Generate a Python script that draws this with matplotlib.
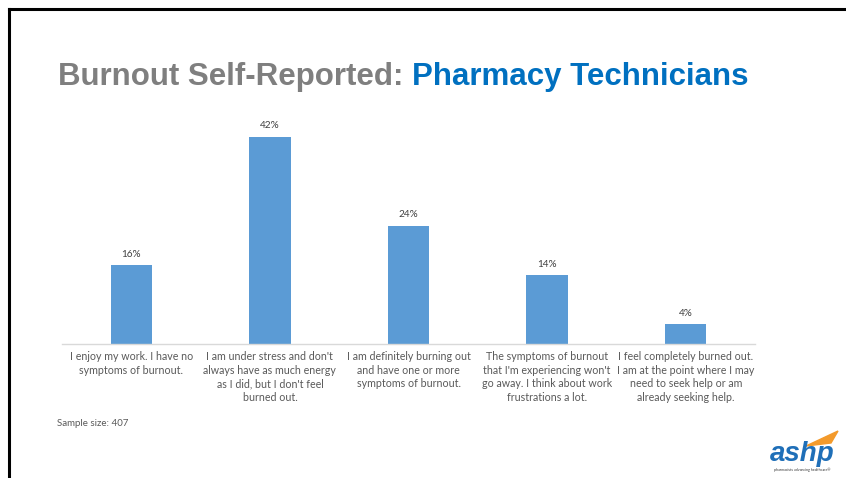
import matplotlib
matplotlib.use('Agg')
import matplotlib.pyplot as plt
from matplotlib.lines import Line2D
from matplotlib.patches import Polygon

# 資料
categories = [
    "I enjoy my work. I have no\nsymptoms of burnout.",
    "I am under stress and don't\nalways have as much energy\nas I did, but I don't feel\nburned out.",
    "I am definitely burning out\nand have one or more\nsymptoms of burnout.",
    "The symptoms of burnout\nthat I'm experiencing won't\ngo away. I think about work\nfrustrations a lot.",
    "I feel completely burned out.\nI am at the point where I may\nneed to seek help or am\nalready seeking help.",
]
percents = [16, 42, 24, 14, 4]
sample_size = 407

bar_color = '#5B9BD5'
text_gray = '#595959'

fig = plt.figure(figsize=(8.46, 4.78), dpi=100)
fig.patch.set_facecolor('white')

# 外框(上、左)
fig.add_artist(Line2D([9/846, 1], [1 - 9/478, 1 - 9/478], color='black', lw=2.2, transform=fig.transFigure))
fig.add_artist(Line2D([9/846, 9/846], [0, 1 - 9/478], color='black', lw=2.2, transform=fig.transFigure))

# 標題
title_font = dict(fontsize=22.5, fontweight='bold', family=['Liberation Sans Narrow', 'Liberation Sans'])
t1 = fig.text(58/846, 1 - 85/478, 'Burnout Self-Reported: ', color='#7F7F7F', va='baseline', **title_font)
fig.canvas.draw()
bb = t1.get_window_extent()
fig.text(bb.x1 / fig.bbox.width, 1 - 85/478, 'Pharmacy Technicians', color='#0070C0', va='baseline', **title_font)

# 長條圖
ax = fig.add_axes([62/846, (478-344)/478, (755-62)/846, (344-122)/478])
x = list(range(len(percents)))
bars = ax.bar(x, percents, width=0.3, color=bar_color)
for xi, p in zip(x, percents):
    ax.text(xi, p + 1.3, f'{p}%', ha='center', va='bottom', fontsize=7.2, color='#404040', family='Lato')
ax.set_xlim(-0.5, len(percents) - 0.5)
ax.set_ylim(0, 45)
ax.set_yticks([])
ax.set_xticks(x)
ax.set_xticklabels(categories, fontsize=7.7, color=text_gray, family='Lato', linespacing=1.3)
ax.tick_params(axis='x', length=0, pad=5)
for s in ['top', 'right', 'left']:
    ax.spines[s].set_visible(False)
ax.spines['bottom'].set_color('#D9D9D9')
ax.spines['bottom'].set_linewidth(1)

# 樣本數
fig.text(57/846, 1 - 424/478, f'Sample size: {sample_size}', fontsize=7, color=text_gray, family='Lato', va='center')

# ashp 標誌
fig.text(802/846, 1 - 461/478, 'ashp', fontsize=20, fontweight='bold', style='italic', color='#1F6FB8',
         ha='center', va='baseline', family='Liberation Sans')
fig.add_artist(Polygon([[806/846, 1 - 446/478], [838/846, 1 - 431/478], [831/846, 1 - 443/478]],
                       closed=True, color='#F39A2B', transform=fig.transFigure))
fig.text(802/846, 1 - 470/478, 'pharmacists advancing healthcare\u00ae', fontsize=2.6, color='#333333',
         ha='center', va='center', family='Lato')

plt.savefig('out.png', dpi=100)
